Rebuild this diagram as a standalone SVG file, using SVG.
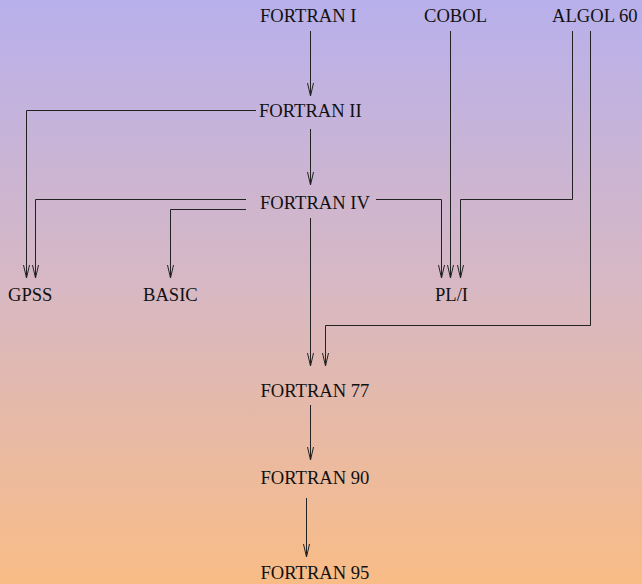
<svg xmlns="http://www.w3.org/2000/svg" width="642" height="584" viewBox="0 0 642 584">
<defs>
<linearGradient id="bg" x1="0" y1="0" x2="0" y2="1">
<stop offset="0" stop-color="#b8b0ec"/>
<stop offset="0.5" stop-color="#d8b8c2"/>
<stop offset="1" stop-color="#f9bc86"/>
</linearGradient>
<marker id="v" markerUnits="userSpaceOnUse" markerWidth="16" markerHeight="10" viewBox="-14 -5 16 10" refX="0" refY="0" orient="auto">
<path d="M-13,-3 L0,0 L-13,3" fill="none" stroke="#222" stroke-width="1"/>
</marker>
</defs>
<style>
text{font-family:"Liberation Serif","Times New Roman",serif;font-size:18.6px;fill:#111}
.c path{fill:none;stroke:#222;stroke-width:1;marker-end:url(#v)}
</style>
<rect width="642" height="584" fill="url(#bg)"/>
<g class="c" id="connectors">
<path d="M310.5,31 V96"/>
<path d="M450.5,31 V278"/>
<path d="M572.5,31 V199.5 H460.5 V278"/>
<path d="M590.5,31 V325.5 H325.5 V366"/>
<path d="M256,110.5 H26.5 V278"/>
<path d="M310.5,129 V185"/>
<path d="M246,199.5 H35.5 V278"/>
<path d="M246,209.5 H170.5 V278"/>
<path d="M376,199.5 H441.5 V278"/>
<path d="M310.5,218 V366"/>
<path d="M310.5,405 V460"/>
<path d="M306.5,498 V557"/>
</g>
<g id="fortran1"><text x="260" y="21.5">FORTRAN I</text></g>
<g id="cobol"><text x="424" y="21.5">COBOL</text></g>
<g id="algol60"><text x="552" y="21.5">ALGOL 60</text></g>
<g id="fortran2"><text x="259" y="116.5">FORTRAN II</text></g>
<g id="fortran4"><text x="260" y="209">FORTRAN IV</text></g>
<g id="gpss"><text x="8" y="300.5">GPSS</text></g>
<g id="basic"><text x="143" y="300.5">BASIC</text></g>
<g id="pl1"><text x="435" y="300.5">PL/I</text></g>
<g id="fortran77"><text x="260.5" y="396.5">FORTRAN 77</text></g>
<g id="fortran90"><text x="260.5" y="484">FORTRAN 90</text></g>
<g id="fortran95"><text x="260.5" y="579">FORTRAN 95</text></g>
</svg>
